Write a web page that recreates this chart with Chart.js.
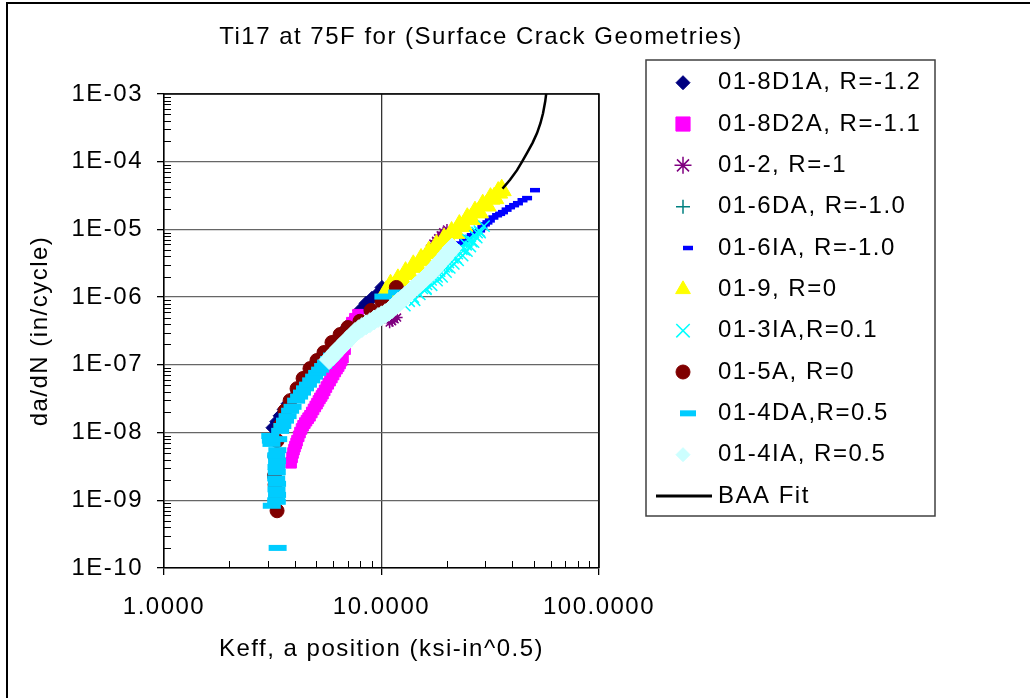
<!DOCTYPE html>
<html>
<head>
<meta charset="utf-8">
<title>Ti17 at 75F</title>
<script src="https://cdn.jsdelivr.net/npm/chart.js@4.4.0/dist/chart.umd.min.js"></script>
<style>
  html, body { margin: 0; padding: 0; background: #fff; }
  #wrap { width: 1030px; height: 698px; }
</style>
</head>
<body>
<div id="wrap"><canvas id="crackChart" width="1030" height="698"></canvas></div>
<script>
// ---- data ----
const chartTitle = 'Ti17 at 75F for (Surface Crack Geometries)';
const xTitle = 'Keff, a position (ksi-in^0.5)';
const yTitle = 'da/dN (in/cycle)';

const xTickValues = [1, 10, 100];
const xTickLabels = ['1.0000', '10.0000', '100.0000'];
const yTickValues = [1e-10, 1e-9, 1e-8, 1e-7, 1e-6, 1e-5, 1e-4, 1e-3];
const yTickLabels = ['1E-10', '1E-09', '1E-08', '1E-07', '1E-06', '1E-05', '1E-04', '1E-03'];

const seriesNames = [
    '01-8D1A, R=-1.2', '01-8D2A, R=-1.1', '01-2, R=-1', '01-6DA, R=-1.0', '01-6IA, R=-1.0',
    '01-9, R=0', '01-3IA,R=0.1', '01-5A, R=0', '01-4DA,R=0.5', '01-4IA, R=0.5', 'BAA Fit'
];

const k8D1A = [3.17, 3.30, 3.42, 3.57, 3.72, 3.90, 4.09, 4.30, 4.54, 4.78, 5.05, 5.27, 5.50, 5.74, 5.98, 6.28, 6.58, 6.94, 7.39, 7.96, 8.49, 9.04, 9.55, 10.05];
const rate8D1A = [1.18e-8, 1.45e-8, 1.77e-8, 2.2e-8, 2.67e-8, 3.2e-8, 3.76e-8, 4.9e-8, 6.5e-8, 8.0e-8, 9.75e-8, 1.12e-7, 1.28e-7, 1.52e-7, 1.80e-7, 2.3e-7, 2.9e-7, 3.56e-7, 4.52e-7, 6.35e-7, 8.1e-7, 9.6e-7, 1.1e-6, 1.39e-6];

const k8D2A = [3.84, 3.88, 3.92, 3.96, 4.00, 4.05, 4.09, 4.16, 4.22, 4.29, 4.36, 4.44, 4.52, 4.60, 4.69, 4.78, 4.87, 4.96, 5.05, 5.13, 5.21, 5.30, 5.38, 5.48, 5.58, 5.69, 5.80, 5.91, 6.02, 6.13, 6.24, 6.35, 6.45, 6.55, 6.65, 6.80, 6.94, 7.12, 7.31, 7.55, 7.80];
const rate8D2A = [3.58e-9, 4.3e-9, 5.0e-9, 5.6e-9, 6.2e-9, 6.9e-9, 7.6e-9, 8.8e-9, 1.0e-8, 1.13e-8, 1.26e-8, 1.38e-8, 1.5e-8, 1.63e-8, 1.77e-8, 1.98e-8, 2.2e-8, 2.43e-8, 2.67e-8, 2.93e-8, 3.2e-8, 3.47e-8, 3.76e-8, 4.2e-8, 4.7e-8, 5.25e-8, 5.85e-8, 6.5e-8, 7.2e-8, 8.0e-8, 8.8e-8, 9.6e-8, 1.05e-7, 1.16e-7, 1.28e-7, 1.7e-7, 2.29e-7, 3.0e-7, 4.2e-7, 4.8e-7, 5.5e-7];

const k012 = [10.9, 11.2, 11.5, 11.8, 12.5, 13.5, 14.6, 15.8, 16.7, 17.3, 17.8, 18.2, 18.7, 19.2, 20.0];
const rate012 = [4.2e-7, 4.4e-7, 4.7e-7, 5.0e-7, 1.6e-6, 2.3e-6, 3.2e-6, 4.3e-6, 5.2e-6, 6.2e-6, 6.8e-6, 7.4e-6, 8.2e-6, 9.1e-6, 1.0e-5];

const k6DA = [6.5, 7.5, 8.5, 10.0, 11.5, 13.0, 15.0, 17.0];
const rate6DA = [1.8e-7, 2.9e-7, 3.9e-7, 5.3e-7, 7.2e-7, 1.0e-6, 1.55e-6, 2.25e-6];

const k6IA = [18.6, 19.4, 20.2, 21.1, 22.0, 23.0, 24.0, 25.0, 26.0, 26.9, 27.6, 28.4, 29.1, 29.9, 30.7, 31.5, 32.7, 34.0, 35.1, 36.2, 37.6, 39.0, 40.7, 42.4, 44.5, 46.7, 50.8];
const rate6IA = [3.8e-6, 4.3e-6, 4.7e-6, 5.1e-6, 5.6e-6, 6.2e-6, 6.9e-6, 7.7e-6, 8.2e-6, 8.8e-6, 9.2e-6, 9.7e-6, 1.08e-5, 1.19e-5, 1.27e-5, 1.36e-5, 1.5e-5, 1.62e-5, 1.7e-5, 1.8e-5, 1.96e-5, 2.13e-5, 2.28e-5, 2.44e-5, 2.7e-5, 2.9e-5, 3.8e-5];

const k019 = [10.5, 11.0, 11.4, 11.9, 12.4, 12.9, 13.4, 14.0, 14.6, 15.2, 15.8, 16.5, 17.2, 17.9, 18.6, 19.4, 20.2, 21.0, 21.9, 22.8, 23.8, 24.8, 25.8, 26.9, 28.0, 29.2, 30.4, 31.7, 33.0, 34.4, 35.7];
const rate019 = [1.2e-6, 1.5e-6, 1.4e-6, 1.8e-6, 1.8e-6, 2.3e-6, 2.2e-6, 2.9e-6, 2.8e-6, 3.6e-6, 3.5e-6, 4.6e-6, 4.5e-6, 5.8e-6, 5.6e-6, 7.2e-6, 7.1e-6, 9.0e-6, 8.9e-6, 1.14e-5, 1.12e-5, 1.44e-5, 1.42e-5, 1.8e-5, 1.79e-5, 2.28e-5, 2.26e-5, 2.85e-5, 2.9e-5, 3.5e-5, 3.8e-5];

const k3IA = [12.8, 13.4, 14.0, 14.7, 15.0, 15.4, 16.0, 16.1, 16.9, 17.0, 17.7, 18.0, 18.5, 19.0, 19.4, 20.0, 20.3, 21.0, 21.3, 22.0, 22.3, 23.0, 23.4, 24.0, 24.5, 25.0, 25.7, 26.0, 26.9, 27.5, 28.2, 29.6,
    14.2, 15.0, 16.0, 17.0, 18.0, 19.0, 19.8, 20.6, 21.5, 22.5, 23.6, 24.7, 25.6, 26.5, 27.4, 28.4];
const rate3IA = [7.5e-7, 8.7e-7, 1.0e-6, 1.16e-6, 1.6e-6, 1.35e-6, 1.35e-6, 1.55e-6, 1.8e-6, 2.3e-6, 2.1e-6, 2.0e-6, 2.42e-6, 3.1e-6, 2.8e-6, 2.8e-6, 3.25e-6, 4.1e-6, 3.8e-6, 3.8e-6, 4.4e-6, 5.3e-6, 5.1e-6, 5.0e-6, 5.95e-6, 7.0e-6, 6.9e-6, 6.6e-6, 8.0e-6, 9.0e-6, 9.4e-6, 1.12e-5,
    9.0e-7, 1.1e-6, 1.3e-6, 1.5e-6, 1.75e-6, 2.0e-6, 2.35e-6, 2.7e-6, 3.1e-6, 3.5e-6, 4.1e-6, 4.8e-6, 5.6e-6, 6.5e-6, 7.6e-6, 9.0e-6];

const k5A = [3.31, 3.27, 3.24, 3.22, 3.24, 3.31, 3.42, 3.60, 3.80, 4.09, 4.36, 4.69, 5.05, 5.44, 5.92, 6.45, 7.01, 7.96, 8.95, 10.05, 11.7];
const rate5A = [7.0e-10, 1.16e-9, 1.7e-9, 2.3e-9, 4.5e-9, 7.6e-9, 1.26e-8, 2.1e-8, 2.96e-8, 4.45e-8, 6.3e-8, 8.8e-8, 1.16e-7, 1.52e-7, 2.14e-7, 2.8e-7, 3.56e-7, 4.4e-7, 6.35e-7, 8.6e-7, 1.39e-6];

const k4DA = [3.33, 3.13, 3.30, 3.28, 3.31, 3.29, 3.31, 3.28, 3.30, 3.29, 3.31, 3.28, 3.32, 3.12, 3.10, 3.08, 3.35, 3.42, 3.50, 3.60, 3.70, 3.80, 3.90, 4.05, 4.18, 4.31, 4.45, 4.59, 4.75, 4.90, 5.06, 5.22, 5.39, 5.56, 5.74, 5.92, 10.2, 11.8];
const rate4DA = [1.98e-10, 8.3e-10, 9.5e-10, 1.0e-9, 1.2e-9, 1.45e-9, 1.75e-9, 2.1e-9, 2.6e-9, 3.1e-9, 3.8e-9, 4.6e-9, 5.5e-9, 6.8e-9, 7.6e-9, 8.9e-9, 8.0e-9, 1.06e-8, 1.25e-8, 1.5e-8, 1.75e-8, 2.1e-8, 2.4e-8, 2.96e-8, 3.4e-8, 3.89e-8, 4.5e-8, 5.1e-8, 5.9e-8, 6.7e-8, 7.6e-8, 8.5e-8, 9.6e-8, 1.08e-7, 1.22e-7, 1.37e-7, 1.02e-6, 1.17e-6];

const k4IA = [5.74, 5.98, 6.2, 6.45, 6.7, 6.94, 7.25, 7.55, 7.85, 8.13, 8.5, 8.85, 9.25, 9.64, 10.0, 10.4, 10.8, 11.2, 11.6, 11.9, 12.4, 12.8, 13.3, 13.8, 14.3, 14.9, 15.5, 16.0, 16.6, 17.3, 17.9, 18.6, 19.3, 20.0, 20.6, 21.1];
const rate4IA = [1.2e-7, 1.37e-7, 1.58e-7, 1.8e-7, 2.0e-7, 2.29e-7, 2.6e-7, 3.0e-7, 3.3e-7, 3.56e-7, 3.9e-7, 4.2e-7, 4.6e-7, 5.0e-7, 5.3e-7, 5.7e-7, 6.2e-7, 6.8e-7, 7.6e-7, 8.4e-7, 9.2e-7, 1.02e-6, 1.13e-6, 1.26e-6, 1.42e-6, 1.6e-6, 1.78e-6, 1.96e-6, 2.2e-6, 2.49e-6, 2.85e-6, 3.27e-6, 3.75e-6, 4.3e-6, 4.8e-6, 5.3e-6];

const kFit = [36.0, 39.0, 42.0, 44.3, 46.7, 49.5, 51.9, 53.8, 55.3, 56.6, 57.7];
const rateFit = [4.0e-5, 5.4e-5, 7.5e-5, 1.0e-4, 1.35e-4, 1.9e-4, 2.65e-4, 3.7e-4, 5.2e-4, 7.8e-4, 1.27e-3];

// ---- styling ----
const FONT = "'Liberation Sans', Arial, sans-serif";
const markers = [
    { color: '#000080', style: 'rectRot', r: 7, bw: 1, lr: 7 },
    { color: '#FF00FF', style: 'rect', r: 7.5, bw: 1, lr: 10 },
    { color: '#800080', style: 'star', r: 5.5, bw: 1.5, lr: 8.5 },
    { color: '#008080', style: 'cross', r: 5, bw: 1.5, lr: 7 },
    { color: '#0000FF', style: 'line', r: 5, bw: 4.5, lr: 5 },
    { color: '#FFFF00', style: 'triangle', r: 11, bw: 1, lr: 8.5 },
    { color: '#00FFFF', style: 'crossRot', r: 8, bw: 1.5, lr: 9.5 },
    { color: '#800000', style: 'circle', r: 7, bw: 1, lr: 7 },
    { color: '#00CCFF', style: 'line', r: 9, bw: 6, lr: 8 },
    { color: '#CCFFFF', style: 'rectRot', r: 10, bw: 1, lr: 7 }
];

function pairs(xs, ys) {
    return xs.map((x, i) => ({ x: x, y: ys[i] }));
}

const seriesData = [
    pairs(k8D1A, rate8D1A), pairs(k8D2A, rate8D2A), pairs(k012, rate012), pairs(k6DA, rate6DA),
    pairs(k6IA, rate6IA), pairs(k019, rate019), pairs(k3IA, rate3IA), pairs(k5A, rate5A),
    pairs(k4DA, rate4DA), pairs(k4IA, rate4IA)
];

const datasets = seriesData.map((pts, i) => ({
    label: seriesNames[i],
    data: pts,
    showLine: false,
    pointStyle: markers[i].style,
    pointRadius: markers[i].r,
    pointHoverRadius: markers[i].r,
    pointBackgroundColor: markers[i].color,
    pointBorderColor: markers[i].color,
    pointBorderWidth: markers[i].bw,
    order: -i          // later series sit on top, like the original
}));

datasets.push({
    label: seriesNames[10],
    data: pairs(kFit, rateFit),
    showLine: true,
    borderColor: '#000',
    borderWidth: 2.5,
    pointRadius: 0,
    fill: false,
    order: -20
});

// frame, plot border, minor ticks, title and boxed legend
const decorPlugin = {
    id: 'decor',
    beforeDraw(chart) {
        const ctx = chart.ctx;
        ctx.save();
        ctx.fillStyle = '#fff';
        ctx.fillRect(0, 0, chart.width, chart.height);
        ctx.restore();
        ctx.letterSpacing = '1.5px';
    },
    afterDraw(chart) {
        const ctx = chart.ctx;
        const xs = chart.scales.x;
        const ys = chart.scales.y;
        const a = chart.chartArea;
        ctx.save();

        // outer frame (top and left edges only show)
        ctx.strokeStyle = '#000';
        ctx.lineWidth = 2;
        ctx.beginPath();
        ctx.moveTo(7, chart.height);
        ctx.lineTo(7, 3);
        ctx.lineTo(chart.width, 3);
        ctx.stroke();

        // top and right plot border
        ctx.lineWidth = 1.5;
        ctx.beginPath();
        ctx.moveTo(a.left, a.top);
        ctx.lineTo(a.right, a.top);
        ctx.lineTo(a.right, a.bottom);
        ctx.stroke();

        // minor ticks, pointing inward
        ctx.lineWidth = 1;
        ctx.beginPath();
        [1, 10].forEach(d => {
            for (let m = 2; m <= 9; m++) {
                const px = Math.round(xs.getPixelForValue(m * d)) + 0.5;
                ctx.moveTo(px, a.bottom);
                ctx.lineTo(px, a.bottom - 7);
            }
        });
        for (let e = -10; e < -3; e++) {
            for (let m = 2; m <= 9; m++) {
                const py = Math.round(ys.getPixelForValue(m * Math.pow(10, e))) + 0.5;
                ctx.moveTo(a.left, py);
                ctx.lineTo(a.left + 7, py);
            }
        }
        ctx.stroke();

        // title
        ctx.fillStyle = '#000';
        ctx.font = '24px ' + FONT;
        ctx.textAlign = 'center';
        ctx.textBaseline = 'middle';
        ctx.fillText(chartTitle, 481, 37);

        // legend box
        const box = { left: 646, top: 60, right: 935, bottom: 516 };
        ctx.fillStyle = '#fff';
        ctx.fillRect(box.left, box.top, box.right - box.left, box.bottom - box.top);
        ctx.strokeStyle = '#404040';
        ctx.lineWidth = 1.5;
        ctx.strokeRect(box.left, box.top, box.right - box.left, box.bottom - box.top);

        const rowStep = 41.33;
        ctx.textAlign = 'left';
        for (let i = 0; i < seriesNames.length; i++) {
            const y = 82.7 + i * rowStep;
            if (i < markers.length) {
                const mk = markers[i];
                ctx.fillStyle = mk.color;
                ctx.strokeStyle = mk.color;
                ctx.lineWidth = mk.bw;
                Chart.helpers.drawPoint(ctx, {
                    pointStyle: mk.style, radius: mk.lr, rotation: 0,
                    borderWidth: mk.style === 'line' ? 5 : mk.bw
                }, mk.style === 'line' ? 688 : 683, y);
            } else {
                ctx.strokeStyle = '#000';
                ctx.lineWidth = 3;
                ctx.beginPath();
                ctx.moveTo(656, y);
                ctx.lineTo(712, y);
                ctx.stroke();
            }
            ctx.fillStyle = '#000';
            ctx.font = '24px ' + FONT;
            ctx.fillText(seriesNames[i], 718, y);
        }
        ctx.restore();
    }
};

Chart.defaults.font.family = FONT;
Chart.defaults.font.size = 24;
Chart.defaults.color = '#000';

const ctx = document.getElementById('crackChart').getContext('2d');
const crackChart = new Chart(ctx, {
    type: 'scatter',
    data: { datasets: datasets },
    options: {
        responsive: false,
        animation: false,
        events: [],
        layout: { padding: { left: 25.6, right: 431, top: 94, bottom: 34.6 } },
        plugins: {
            legend: { display: false },
            title: { display: false },
            tooltip: { enabled: false }
        },
        scales: {
            x: {
                type: 'logarithmic',
                min: 1,
                max: 100,
                afterBuildTicks: (axis) => { axis.ticks = xTickValues.map(v => ({ value: v, major: true })); },
                afterFit: (axis) => { axis.height = 95.4; },
                ticks: {
                    autoSkip: false,
                    maxRotation: 0,
                    padding: 18,
                    callback: (value, index) => xTickLabels[index]
                },
                grid: { color: '#333', lineWidth: 1.3, tickLength: 7, tickColor: '#000', tickWidth: 1.3 },
                border: { color: '#000', width: 1.5 },
                title: { display: true, text: xTitle, padding: 0, font: { size: 24 } }
            },
            y: {
                type: 'logarithmic',
                min: 1e-10,
                max: 1e-3,
                afterBuildTicks: (axis) => { axis.ticks = yTickValues.map(v => ({ value: v, major: true })); },
                afterFit: (axis) => { axis.width = 138.4; },
                ticks: {
                    autoSkip: false,
                    padding: 14,
                    callback: (value, index) => yTickLabels[index]
                },
                grid: { color: '#666', lineWidth: 1.3, tickLength: 7, tickColor: '#000', tickWidth: 1.3 },
                border: { color: '#000', width: 1.5 },
                title: { display: true, text: yTitle, padding: 0, font: { size: 24 } }
            }
        }
    },
    plugins: [decorPlugin]
});
</script>
</body>
</html>
